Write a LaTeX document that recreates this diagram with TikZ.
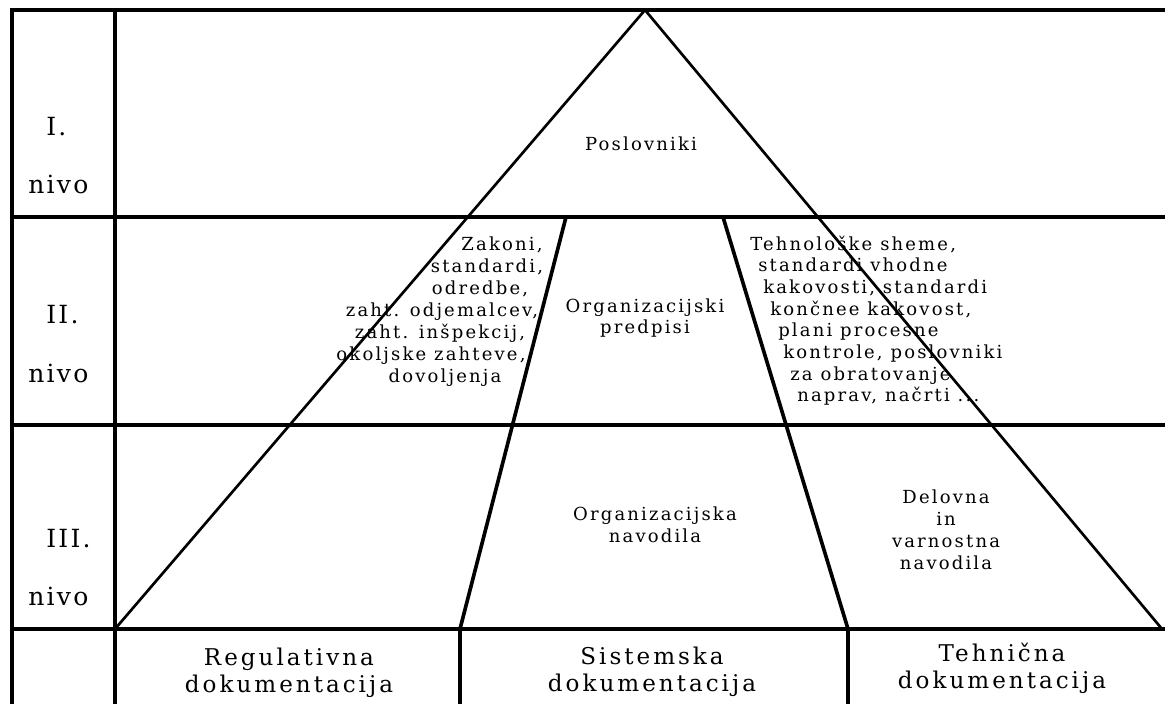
\documentclass[tikz,border=0pt]{standalone}
\usepackage{fontspec}
\setmainfont{DejaVu Serif}
\newfontfamily\spacedfont[LetterSpace=12]{DejaVu Serif}
\newfontfamily\bigfont[LetterSpace=13]{DejaVu Serif}
\newfontfamily\levelfont[LetterSpace=9]{DejaVu Serif}
\usetikzlibrary{calc}
\tikzstyle{grid} = [draw, line width=2.6pt]
\tikzstyle{edge} = [draw, line width=1.9pt]
\tikzstyle{split} = [draw, line width=2.6pt]
\tikzstyle{small} = [inner sep=0pt, align=center,
    font=\spacedfont\fontsize{12.8}{15.6}\selectfont]
\tikzstyle{big} = [inner sep=0pt, align=center,
    font=\bigfont\fontsize{16.4}{19.2}\selectfont]
\tikzstyle{level} = [inner sep=0pt, anchor=base west,
    font=\levelfont\fontsize{17.8}{22}\selectfont]

\begin{document}
\begin{tikzpicture}[x=0.025cm,y=-0.025cm]
    \useasboundingbox (0,0) rectangle (1165,704);

    % table
    \path [grid] (12,704) -- (12,10) -- (1165,10);
    \path [grid] (115,10) -- (115,704);
    \foreach \y in {217,425,629}
        \path [grid] (12,\y) -- (1165,\y);
    \coordinate (colA) at (460,629);
    \coordinate (colB) at (848,629);
    \path [grid] (colA) -- (460,704);
    \path [grid] (colB) -- (848,704);

    % pyramid
    \coordinate (apex) at (645,10);
    \coordinate (baseL) at (115,629);
    \coordinate (baseR) at (1162,629);
    \path [edge] (baseL) -- (apex) -- (baseR);
    \path [split] (566,217) -- (colA);
    \path [split] (723,217) -- (colB);

    % levels
    \foreach \lvl/\ya/\yb [count=\i] in {I./135/193, II./323/382, III./547/605} {
        \node [level] (lvl\i) at (46,\ya) {\lvl};
        \node [level] (nivo\i) at (28,\yb) {nivo};
    }

    \node [small,anchor=base] (posl) at (641,150) {Poslovniki};

    % II. nivo
    \foreach \cx/\txt [count=\i] in {502/{Zakoni,}, 487/{standardi,}, 480/{odredbe,},
        442/{zaht. odjemalcev,}, 440/{zaht. inšpekcij,}, 431/{okoljske zahteve,}, 445/{dovoljenja}}
        \node [small,anchor=base] (reg\i) at (\cx,{250+22*(\i-1)}) {\txt};
    \node [small] (orgpre) at (645,318) {Organizacijski\\predpisi};
    \foreach \lx/\txt [count=\i] in {750/{Tehnološke sheme,}, 758/{standardi vhodne},
        763/{kakovosti, standardi}, 770/{končnee kakovost,}, 778/{plani procesne},
        783/{kontrole, poslovniki}, 790/{za obratovanje}, 797/{naprav, načrti ...}}
        \node [small,anchor=base west] (teh\i) at (\lx,{250+21.7*(\i-1)}) {\txt};

    % III. nivo
    \node [small] (orgnav) at (655,525) {Organizacijska\\navodila};
    \node [small] (delo) at (946,530) {Delovna\\in\hspace*{0.7em}\\varnostna\\navodila};

    % bottom row
    \node [big] (regdoc) at (289,673) {Regulativna\\dokumentacija};
    \node [big] (sisdoc) at (652,672) {Sistemska\\dokumentacija};
    \node [big] (tehdoc) at (1002,668) {Tehnična\\dokumentacija};

\end{tikzpicture}
\end{document}
